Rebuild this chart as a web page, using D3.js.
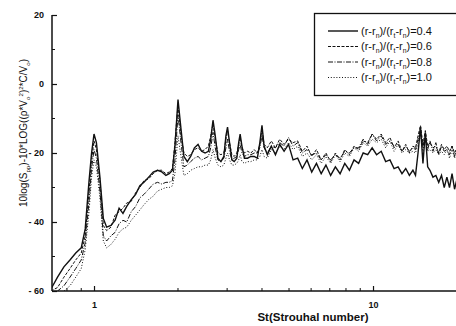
<!DOCTYPE html>
<html>
<head>
<meta charset="utf-8">
<script src="https://cdn.jsdelivr.net/npm/d3@7"></script>
<style>
  body { margin: 0; background: #fff; }
  svg { display: block; }
  text { font-family: "Liberation Sans", Arial, sans-serif; fill: #111; }
</style>
</head>
<body>
<div id="chart"></div>
<script>
// Strouhal numbers (shared by all series)
var st = [0.70, 0.74, 0.78, 0.82, 0.86, 0.90, 0.93, 0.96, 0.98, 1.00,
  1.02, 1.05, 1.08, 1.11, 1.15, 1.19, 1.23, 1.27, 1.31, 1.36,
  1.41, 1.46, 1.51, 1.57, 1.63, 1.69, 1.75, 1.81, 1.86, 1.91,
  1.95, 2.00, 2.05, 2.10, 2.16, 2.22, 2.29, 2.36, 2.43, 2.50,
  2.57, 2.62, 2.67, 2.72, 2.78, 2.85, 2.92, 2.97, 3.01, 3.06,
  3.12, 3.18, 3.25, 3.30, 3.34, 3.39, 3.46, 3.55, 3.65, 3.75,
  3.85, 3.93, 4.00, 4.07,
  4.18, 4.32, 4.47, 4.63, 4.80, 4.98, 5.17, 5.37, 5.58, 5.80,
  6.03, 6.27, 6.52, 6.78, 7.05, 7.33, 7.62, 7.92, 8.23, 8.55,
  8.88, 9.22, 9.57, 9.93, 10.3, 10.7, 11.1, 11.5, 11.9, 12.3,
  12.7, 13.1, 13.5, 13.9, 14.2, 14.5, 14.8, 15.1, 15.4, 15.7,
  16.0, 16.4, 16.8, 17.2, 17.6, 18.0, 18.4, 18.8, 19.2, 19.6, 20.0];

// (r-rn)/(rt-rn)=0.4
var s04 = [-59.5, -56, -53, -51, -49, -47.5, -42, -28, -20, -14.5,
  -17, -27, -39, -41.5, -41, -39.5, -36, -37.5, -35.5, -33.5,
  -32, -29.5, -28.5, -27, -25.5, -25, -25.5, -26.5, -26, -25,
  -18, -4.5, -13, -21, -22.5, -21, -18.5, -17.5, -19.5, -20,
  -19.5, -16, -10.5, -15, -21.5, -22.5, -21, -15, -12.5, -17,
  -22, -22.5, -21.5, -17, -14.5, -18, -21.5, -21.5, -21, -21,
  -21.5, -17, -12, -18,
  -20.5, -18, -20.5, -17.5, -19.5, -17.5, -22, -21.5, -24.5, -22,
  -25.5, -23, -26, -23.5, -26.5, -24, -26, -23, -25, -22,
  -23, -20, -20.5, -18.5, -20.5, -19.5, -22.5, -22, -24.5, -24,
  -26, -24.5, -26.5, -25, -26.5, -20, -12.5, -23, -14, -24,
  -25, -27, -26.5, -28.5, -26.5, -30, -27, -30, -26, -30.5, -27.5];

// 0.6
var s06 = [-60, -59, -56, -53.5, -51, -49, -44, -31, -22, -16.5,
  -19, -28, -41, -42.5, -41.5, -38, -37, -36, -34.5, -34,
  -31.5, -30, -28, -27.5, -26, -25, -25, -26, -25.5, -24.5,
  -17, -6, -15, -20, -21, -20.5, -19, -18.5, -19.5, -19,
  -18, -15, -11.5, -16, -20, -20.5, -20, -16, -13.5, -17,
  -20.5, -21, -20, -17.5, -15.5, -18.5, -20, -19.5, -20, -19,
  -20, -17.5, -13, -17.5,
  -18.5, -16.5, -18.5, -16, -17.5, -16, -17, -16.5, -19.5, -18,
  -21, -19, -22, -20, -22.5, -20, -22, -19, -20.5, -18,
  -19, -16.5, -17, -14.5, -16, -14.5, -17, -15.5, -18.5, -16.5,
  -19.5, -17.5, -20, -18, -18.5, -15, -12, -17.5, -13.5, -18,
  -17, -18.5, -18, -20, -17.5, -19, -18, -19.5, -18, -20, -18.5];

// 0.8
var s08 = [-62, -60, -58.5, -56, -53.5, -51, -46, -34, -24.5, -19,
  -21.5, -31, -44, -45.5, -44, -43, -40.5, -39.5, -40, -37,
  -35.5, -33, -32, -30.5, -29, -28.5, -29, -28.5, -28.5, -28,
  -22, -9, -17, -24, -23.5, -22.5, -21.5, -21, -22, -21.5,
  -21, -18.5, -14, -18.5, -22, -22.5, -21.5, -18.5, -16, -19.5,
  -22, -21.5, -21, -19, -17.5, -20, -21, -20.5, -20.5, -20,
  -20, -18.5, -15, -18.5,
  -20, -18, -18.5, -17, -18, -15.5, -18, -17, -20, -19,
  -20.5, -20, -22, -20.5, -22, -20.5, -21.5, -19.5, -20, -18.5,
  -18.5, -16, -17.5, -14.5, -16.5, -15, -17.5, -16.5, -18, -17.5,
  -19.5, -18, -19.5, -18.5, -19, -16, -13, -18.5, -14.5, -19,
  -16.5, -19.5, -17, -20.5, -18, -19.5, -19, -20.5, -18, -21, -18.5];

// 1.0
var s10 = [-64, -62, -60, -58.5, -56, -53.5, -48, -37, -27, -22,
  -24, -33, -45.5, -47.5, -46.5, -45, -43, -42, -41.5, -39.5,
  -38, -36.5, -35, -33.5, -32.5, -31, -30.5, -30, -30, -29.5,
  -26, -15, -21, -26.5, -26, -25, -24.5, -24, -24, -23.5,
  -23.5, -22, -19, -21.5, -23.5, -24, -23.5, -21.5, -20, -22,
  -23.5, -23.5, -23, -22, -20.5, -22.5, -23, -22.5, -22.5, -22,
  -22, -21, -19, -21,
  -21.5, -19, -20, -18, -19, -17, -19, -18, -21, -20,
  -22, -20.5, -23, -21, -23, -20.5, -22.5, -20, -21, -18.5,
  -19.5, -17, -18, -16, -17, -16, -18.5, -16.5, -19.5, -17.5,
  -20, -19, -20, -19.5, -20, -17, -14.5, -19.5, -16, -19.5,
  -19, -20, -19, -20.5, -19.5, -20.5, -19, -21.5, -19, -21.5, -19.5];

var ratios = ["0.4", "0.6", "0.8", "1.0"];
var yTicks = [-60, -40, -20, 0, 20];
var yMinor = [-50, -30, -10, 10];
var xTicks = [1, 10];
var xMinor = [0.8, 0.9, 2, 3, 4, 5, 6, 7, 8, 9, 20];

var W = 456, H = 326,
    plot = {left: 52, right: 457, top: 15, bottom: 291};

var svg = d3.select("#chart").append("svg")
    .attr("width", W)
    .attr("height", H);

var x = d3.scaleLog().domain([0.707, 20]).range([plot.left, plot.right]);
var y = d3.scaleLinear().domain([-60, 20]).range([plot.bottom, plot.top]);

svg.append("clipPath").attr("id", "clip")
  .append("rect")
    .attr("x", plot.left).attr("y", plot.top)
    .attr("width", plot.right - plot.left).attr("height", plot.bottom - plot.top);

// series, drawn back to front
var styles = [
  {data: s10, dash: "1,1.8", w: 1},
  {data: s08, dash: "5,1.5,1,1.5", w: 1},
  {data: s06, dash: "3,1.5", w: 1},
  {data: s04, dash: null, w: 1.4}
];

var line = d3.line()
    .x(function (d) { return x(d[0]); })
    .y(function (d) { return y(d[1]); });

var lines = svg.append("g").attr("clip-path", "url(#clip)");
styles.forEach(function (s) {
  lines.append("path")
    .datum(st.map(function (v, i) { return [v, s.data[i]]; }))
    .attr("d", line)
    .attr("fill", "none")
    .attr("stroke", "#111")
    .attr("stroke-width", s.w)
    .attr("stroke-dasharray", s.dash);
});

// axes (ticks point inward)
var xAxis = d3.axisBottom(x).tickValues(xTicks).tickSize(-5).tickPadding(11)
    .tickFormat(d3.format("d"));
var yAxis = d3.axisLeft(y).tickValues(yTicks).tickSize(-5).tickPadding(8)
    .tickFormat(function (d) { return d < 0 ? "- " + (-d) : d; });

var gx = svg.append("g")
    .attr("transform", "translate(0," + plot.bottom + ")")
    .call(xAxis);
gx.select(".domain").attr("d", "M" + plot.left + ",0H" + W);
gx.selectAll(".minor").data(xMinor).enter().append("line")
    .attr("x1", function (d) { return x(d); }).attr("x2", function (d) { return x(d); })
    .attr("y1", 0).attr("y2", -3)
    .attr("stroke", "#111");

var gy = svg.append("g")
    .attr("transform", "translate(" + plot.left + ",0)")
    .call(yAxis);
gy.select(".domain").attr("d", "M0," + plot.top + "V" + plot.bottom);
gy.selectAll(".minor").data(yMinor).enter().append("line")
    .attr("y1", function (d) { return y(d); }).attr("y2", function (d) { return y(d); })
    .attr("x1", 0).attr("x2", 3)
    .attr("stroke", "#111");

svg.selectAll(".domain").attr("stroke", "#111").attr("stroke-width", 1.5);
svg.selectAll(".tick line").attr("stroke", "#111").attr("stroke-width", 1.2);
svg.selectAll(".tick text")
    .attr("font-size", 9)
    .attr("font-weight", "bold")
    .attr("font-family", "'Liberation Sans', Arial, sans-serif")
    .attr("fill", "#111");

// text with sub/superscripts; dy resets after each shifted piece
function drawRich (sel, parts, size) {
  var off = 0;
  parts.forEach(function (p) {
    var shift = p.sub ? 3 : (p.sup ? -4 : 0);
    var t = sel.append("tspan")
        .attr("font-size", p.sub || p.sup ? size * 0.62 : size)
        .text(p.t);
    if (shift - off) t.attr("dy", shift - off);
    off = shift;
  });
}

// x title
svg.append("text")
    .attr("x", 313).attr("y", 321)
    .attr("text-anchor", "middle")
    .attr("font-size", 11.5)
    .attr("font-weight", "bold")
    .text("St(Strouhal number)");

// y title
var yt = svg.append("text")
    .attr("transform", "translate(27,133) rotate(-90)")
    .attr("text-anchor", "middle");
drawRich(yt, [
  {t: "10log(S"}, {t: "pp", sub: true}, {t: ")-10*LOG((\u03c1*V"}, {t: "o", sub: true},
  {t: "2", sup: true}, {t: ")"}, {t: "2", sup: true}, {t: "*C/V"}, {t: "o", sub: true}, {t: ")"}
], 10);

// legend
var lg = svg.append("g");
lg.append("rect")
    .attr("x", 314.5).attr("y", 13.5)
    .attr("width", 150).attr("height", 82)
    .attr("fill", "#fff")
    .attr("stroke", "#111")
    .attr("stroke-width", 1.3);

var legendStyles = styles.slice().reverse();
ratios.forEach(function (r, i) {
  var yy = 31 + i * 15.5;
  lg.append("line")
      .attr("x1", 328).attr("x2", 358)
      .attr("y1", yy).attr("y2", yy)
      .attr("stroke", "#111")
      .attr("stroke-width", legendStyles[i].w)
      .attr("stroke-dasharray", legendStyles[i].dash);
  var t = lg.append("text").attr("x", 361).attr("y", yy + 3.5);
  drawRich(t, [
    {t: "(r-r"}, {t: "n", sub: true}, {t: ")/(r"}, {t: "t", sub: true},
    {t: "-r"}, {t: "n", sub: true}, {t: ")=" + r}
  ], 11);
});
</script>
</body>
</html>
